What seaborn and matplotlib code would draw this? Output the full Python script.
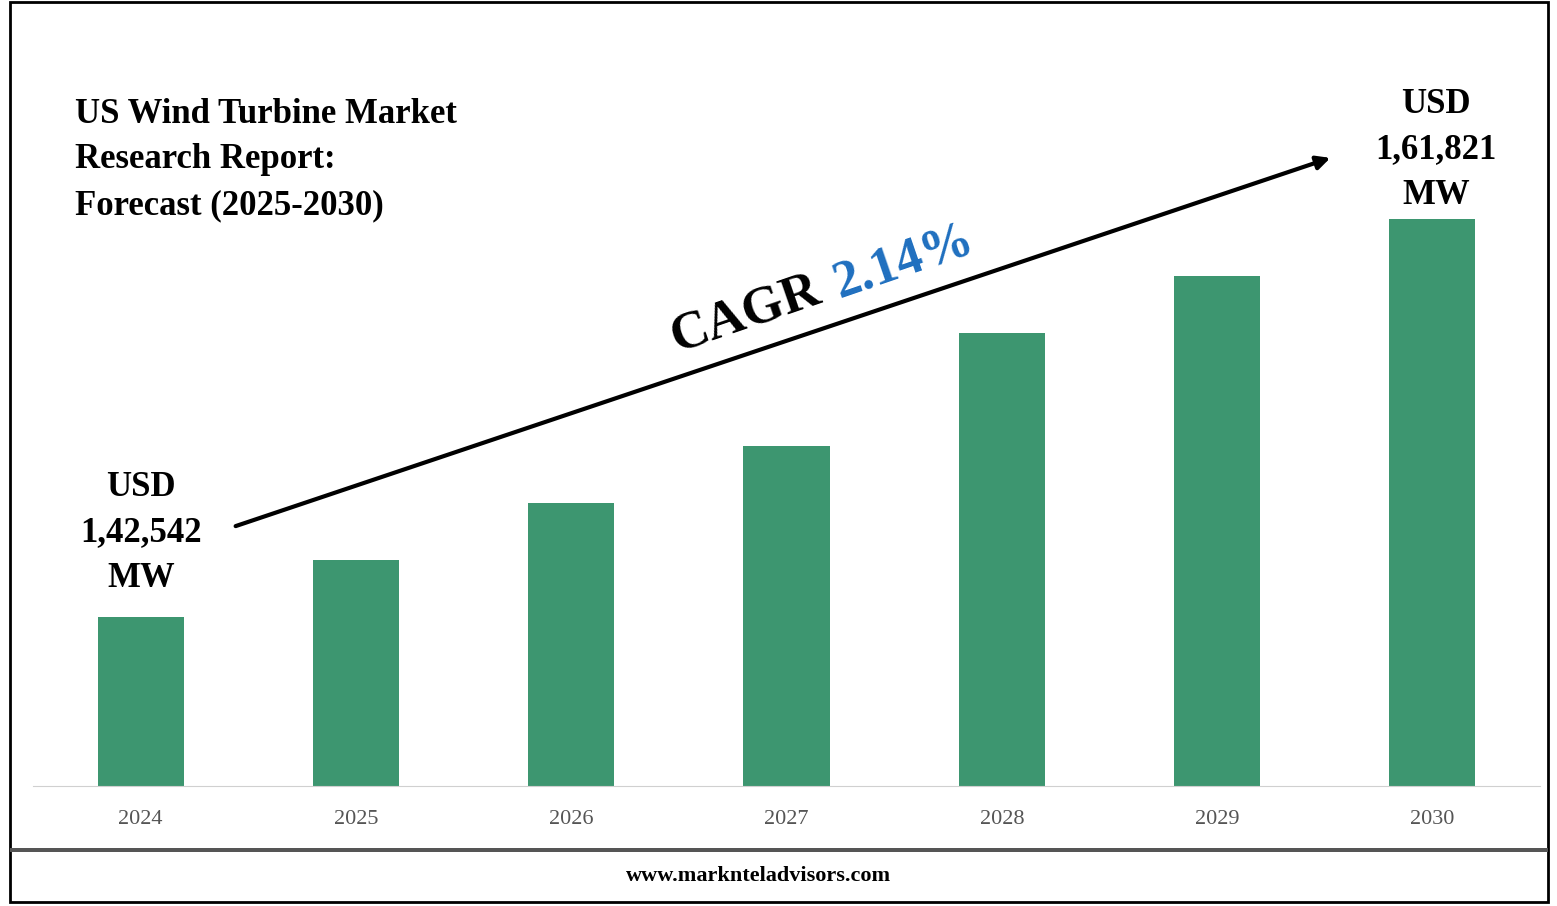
import matplotlib
matplotlib.use("Agg")
import matplotlib.pyplot as plt
import seaborn as sns
import pandas as pd
from matplotlib.patches import Rectangle, FancyArrowPatch

years = ["2024", "2025", "2026", "2027", "2028", "2029", "2030"]
heights = [169, 226, 283, 340, 453, 510, 567]  # visual bar heights (relative)
start_label = "USD\n1,42,542\nMW"
end_label = "USD\n1,61,821\nMW"
cagr = "2.14%"

W, H = 1557, 906
fig = plt.figure(figsize=(W/100, H/100), dpi=100)
def fx(x): return x / W
def fy(y): return 1 - y / H

ax = fig.add_axes([fx(33), fy(786), (1540-33)/W, (786-186)/H])
df = pd.DataFrame({"year": years, "v": heights})
sns.barplot(data=df, x="year", y="v", color="#3d9670", saturation=1, width=0.4, ax=ax)
ax.set_xlim(-0.5, 6.5); ax.set_ylim(0, 600)
for s in ["top", "right", "left"]:
    ax.spines[s].set_visible(False)
ax.spines["bottom"].set_color("#d0d0d0")
ax.set_yticks([]); ax.set_xlabel(""); ax.set_ylabel("")
ax.tick_params(axis="x", length=0, pad=17, labelsize=16, labelcolor="#555555")
for t in ax.get_xticklabels():
    t.set_fontfamily("Liberation Serif")

serif = dict(fontfamily="Liberation Serif", fontweight="bold")
# frame
fig.patches.append(Rectangle((fx(10), fy(902)), (1548-10)/W, (902-2)/H, transform=fig.transFigure,
                             fill=False, lw=2, ec="black"))
fig.patches.append(Rectangle((fx(10), fy(852)), (1548-10)/W, 4/H, transform=fig.transFigure,
                             color="#555555", lw=0))
fig.text(fx(759), fy(876), "www.marknteladvisors.com", ha="center", va="center", fontsize=16, **serif)

fig.text(fx(75), fy(98), "US Wind Turbine Market\nResearch Report:\nForecast (2025-2030)",
         ha="left", va="top", fontsize=25, linespacing=1.5, **serif)
fig.text(fx(141), fy(533), start_label, ha="center", va="center", fontsize=25, linespacing=1.5, **serif)
fig.text(fx(1436), fy(150), end_label, ha="center", va="center", fontsize=25, linespacing=1.5, **serif)

fig.patches.append(FancyArrowPatch((fx(233), fy(527)), (fx(1333), fy(157)), transform=fig.transFigure,
                                   arrowstyle="-|>,head_length=8,head_width=4", lw=3, color="black"))
fig.text(fx(676), fy(352), "CAGR", rotation=19, rotation_mode="anchor", ha="left", va="baseline",
         fontsize=38, **serif)
fig.text(fx(840), fy(298), cagr, rotation=19, rotation_mode="anchor", ha="left", va="baseline",
         fontsize=38, color="#1f6fbf", **serif)

fig.savefig("out.png", dpi=100)
